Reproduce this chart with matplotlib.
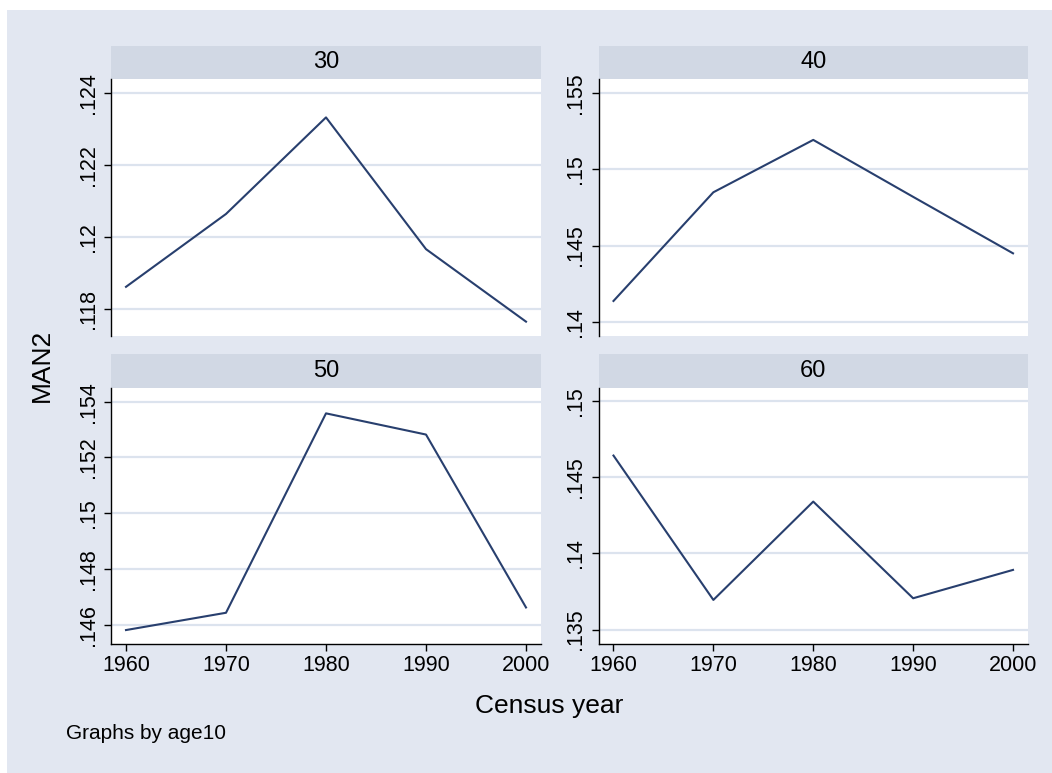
import matplotlib
matplotlib.use("Agg")
import matplotlib.pyplot as plt
from matplotlib.patches import Rectangle

# ---------------------------------------------------------------------------
# Data: MAN2 by census year, one panel per age10 group
# ---------------------------------------------------------------------------

years = [1960, 1970, 1980, 1990, 2000]
groups = ["30", "40", "50", "60"]

man2_30 = [0.11861, 0.12064, 0.12333, 0.11966, 0.11764]
man2_40 = [0.14136, 0.14850, 0.15194, 0.14820, 0.14449]
man2_50 = [0.14581, 0.14643, 0.15358, 0.15282, 0.14662]
man2_60 = [0.14642, 0.13695, 0.14340, 0.13706, 0.13892]

yticks_30 = [0.118, 0.120, 0.122, 0.124]
yticks_40 = [0.140, 0.145, 0.150, 0.155]
yticks_50 = [0.146, 0.148, 0.150, 0.152, 0.154]
yticks_60 = [0.135, 0.140, 0.145, 0.150]

ylims = [(0.11724, 0.12440), (0.13906, 0.15594), (0.14531, 0.15450), (0.13406, 0.15087)]
xticks = [1960, 1970, 1980, 1990, 2000]

# ---------------------------------------------------------------------------
# Style
# ---------------------------------------------------------------------------

plt.rcParams["font.family"] = ["Liberation Sans", "DejaVu Sans"]

BG = "#E2E7F1"
STRIP = "#D1D8E4"
GRID = "#DCE3EE"
LINE = "#283F6E"

W, H = 1052, 773


def fx(px):
    return px / W


def fy(px):
    # pixel rows count from the top
    return 1 - px / H


def stata_fmt(v):
    s = f"{v:.3f}".rstrip("0").rstrip(".")
    return s[1:] if s.startswith("0.") else s


fig = plt.figure(figsize=(W / 100, H / 100), dpi=100, facecolor=BG)
# thin white margin along the top and left edges
fig.patches.append(Rectangle((0, fy(10)), 1, 10 / H, transform=fig.transFigure,
                             facecolor="white", edgecolor="none", zorder=-10))
fig.patches.append(Rectangle((0, 0), fx(7), 1, transform=fig.transFigure,
                             facecolor="white", edgecolor="none", zorder=-10))

# panel boxes in pixels: left, right / strip top, plot top, plot bottom
cols = [(111, 541), (598.5, 1028)]
rows = [(46, 79, 336), (353.5, 387.7, 644)]

series = [man2_30, man2_40, man2_50, man2_60]
yticks = [yticks_30, yticks_40, yticks_50, yticks_60]

for i, (label, vals, yt, yl) in enumerate(zip(groups, series, yticks, ylims)):
    r, c = divmod(i, 2)
    x0, x1 = cols[c]
    s0, p0, p1 = rows[r]

    # strip header
    sax = fig.add_axes([fx(x0), fy(p0), fx(x1 - x0), (p0 - s0) / H])
    sax.set_facecolor(STRIP)
    sax.set_xticks([])
    sax.set_yticks([])
    for sp in sax.spines.values():
        sp.set_visible(False)
    sax.text(0.5, 0.5, label, ha="center", va="center", fontsize=17,
             transform=sax.transAxes)

    ax = fig.add_axes([fx(x0), fy(p1), fx(x1 - x0), (p1 - p0) / H])
    ax.set_facecolor("white")
    ax.plot(years, vals, color=LINE, linewidth=1.5, zorder=3)
    ax.set_xlim(1958.5, 2001.5)
    ax.set_ylim(*yl)
    ax.set_yticks(yt)
    ax.set_yticklabels([stata_fmt(v) for v in yt])
    ax.grid(axis="y", color=GRID, linewidth=1.6)
    ax.set_axisbelow(True)
    for sp in ("top", "right"):
        ax.spines[sp].set_visible(False)
    ax.spines["left"].set_linewidth(1.0)
    ax.tick_params(axis="y", labelrotation=90, labelsize=15.5, length=5, width=1.0, pad=4)
    for t in ax.get_yticklabels():
        t.set_va("center")
    if r == 0:
        ax.spines["bottom"].set_visible(False)
        ax.set_xticks([])
    else:
        ax.spines["bottom"].set_linewidth(1.0)
        ax.set_xticks(xticks)
        ax.tick_params(axis="x", labelsize=15.5, length=5, width=1.0, pad=3)

fig.text(fx(42), fy(365), "MAN2", rotation=90, ha="center", va="center", fontsize=19)
fig.text(fx(549), fy(713), "Census year", ha="center", va="baseline", fontsize=19)
fig.text(fx(66), fy(739), "Graphs by age10", ha="left", va="baseline", fontsize=15)

fig.savefig("out.png", dpi=100, facecolor=fig.get_facecolor())
